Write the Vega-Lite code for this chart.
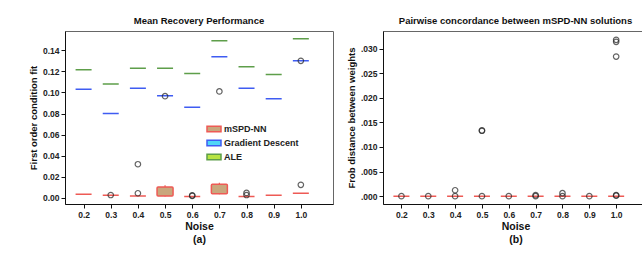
{
  "$schema": "https://vega.github.io/schema/vega-lite/v6.json",
  "padding": {"left": 27, "top": 15, "right": 0, "bottom": 2},
  "background": "white",
  "spacing": 11,
  "config": {
    "font": "Liberation Sans",
    "view": {"stroke": "#666666", "strokeWidth": 1},
    "title": {"font": "Liberation Sans", "fontSize": 9.5, "fontWeight": "bold", "color": "#111111", "offset": 6},
    "axis": {
      "grid": false,
      "domainColor": "#111111",
      "tickColor": "#111111",
      "tickSize": 4,
      "tickCount": 30,
      "labelFont": "Liberation Sans",
      "labelFontSize": 8.5,
      "labelFontWeight": "bold",
      "labelColor": "#222222",
      "labelOverlap": false,
      "titleFont": "Liberation Sans",
      "titleFontWeight": "bold",
      "titleColor": "#111111",
      "labelPadding": 2
    }
  },
  "datasets": {
    "boxA": [
      {"noise": 0.2, "method": "mSPD-NN", "lo": 0.0035, "q1": 0.0035, "q3": 0.0035, "hi": 0.0035},
      {"noise": 0.3, "method": "mSPD-NN", "lo": 0.0025, "q1": 0.0025, "q3": 0.0025, "hi": 0.0025},
      {"noise": 0.4, "method": "mSPD-NN", "lo": 0.002, "q1": 0.002, "q3": 0.002, "hi": 0.002},
      {"noise": 0.5, "method": "mSPD-NN", "lo": 0.0015, "q1": 0.002, "q3": 0.0105, "hi": 0.012},
      {"noise": 0.6, "method": "mSPD-NN", "lo": 0.0015, "q1": 0.0015, "q3": 0.0015, "hi": 0.0015},
      {"noise": 0.7, "method": "mSPD-NN", "lo": 0.0035, "q1": 0.004, "q3": 0.013, "hi": 0.0145},
      {"noise": 0.8, "method": "mSPD-NN", "lo": 0.0015, "q1": 0.0015, "q3": 0.0015, "hi": 0.0015},
      {"noise": 0.9, "method": "mSPD-NN", "lo": 0.0025, "q1": 0.0025, "q3": 0.0025, "hi": 0.0025},
      {"noise": 1.0, "method": "mSPD-NN", "lo": 0.0045, "q1": 0.0045, "q3": 0.0045, "hi": 0.0045},
      {"noise": 0.2, "method": "Gradient Descent", "lo": 0.103, "q1": 0.103, "q3": 0.103, "hi": 0.103},
      {"noise": 0.3, "method": "Gradient Descent", "lo": 0.080, "q1": 0.080, "q3": 0.080, "hi": 0.080},
      {"noise": 0.4, "method": "Gradient Descent", "lo": 0.104, "q1": 0.104, "q3": 0.104, "hi": 0.104},
      {"noise": 0.5, "method": "Gradient Descent", "lo": 0.097, "q1": 0.097, "q3": 0.097, "hi": 0.097},
      {"noise": 0.6, "method": "Gradient Descent", "lo": 0.086, "q1": 0.086, "q3": 0.086, "hi": 0.086},
      {"noise": 0.7, "method": "Gradient Descent", "lo": 0.134, "q1": 0.134, "q3": 0.134, "hi": 0.134},
      {"noise": 0.8, "method": "Gradient Descent", "lo": 0.104, "q1": 0.104, "q3": 0.104, "hi": 0.104},
      {"noise": 0.9, "method": "Gradient Descent", "lo": 0.094, "q1": 0.094, "q3": 0.094, "hi": 0.094},
      {"noise": 1.0, "method": "Gradient Descent", "lo": 0.130, "q1": 0.130, "q3": 0.130, "hi": 0.130},
      {"noise": 0.2, "method": "ALE", "lo": 0.1215, "q1": 0.1215, "q3": 0.1215, "hi": 0.1215},
      {"noise": 0.3, "method": "ALE", "lo": 0.108, "q1": 0.108, "q3": 0.108, "hi": 0.108},
      {"noise": 0.4, "method": "ALE", "lo": 0.123, "q1": 0.123, "q3": 0.123, "hi": 0.123},
      {"noise": 0.5, "method": "ALE", "lo": 0.123, "q1": 0.123, "q3": 0.123, "hi": 0.123},
      {"noise": 0.6, "method": "ALE", "lo": 0.118, "q1": 0.118, "q3": 0.118, "hi": 0.118},
      {"noise": 0.7, "method": "ALE", "lo": 0.149, "q1": 0.149, "q3": 0.149, "hi": 0.149},
      {"noise": 0.8, "method": "ALE", "lo": 0.1245, "q1": 0.1245, "q3": 0.1245, "hi": 0.1245},
      {"noise": 0.9, "method": "ALE", "lo": 0.117, "q1": 0.117, "q3": 0.117, "hi": 0.117},
      {"noise": 1.0, "method": "ALE", "lo": 0.151, "q1": 0.151, "q3": 0.151, "hi": 0.151}
    ],
    "outA": [
      {"noise": 0.3, "value": 0.0028},
      {"noise": 0.4, "value": 0.0045},
      {"noise": 0.4, "value": 0.032},
      {"noise": 0.5, "value": 0.0965},
      {"noise": 0.6, "value": 0.002},
      {"noise": 0.6, "value": 0.0025},
      {"noise": 0.7, "value": 0.101},
      {"noise": 0.8, "value": 0.0028},
      {"noise": 0.8, "value": 0.0048},
      {"noise": 1.0, "value": 0.0125},
      {"noise": 1.0, "value": 0.130}
    ],
    "boxB": [
      {"noise": 0.2, "lo": 0, "q1": 0, "q3": 0, "hi": 0},
      {"noise": 0.3, "lo": 0, "q1": 0, "q3": 0, "hi": 0},
      {"noise": 0.4, "lo": 0, "q1": 0, "q3": 0, "hi": 0},
      {"noise": 0.5, "lo": 0, "q1": 0, "q3": 0, "hi": 0},
      {"noise": 0.6, "lo": 0, "q1": 0, "q3": 0, "hi": 0},
      {"noise": 0.7, "lo": 0, "q1": 0, "q3": 0, "hi": 0},
      {"noise": 0.8, "lo": 0, "q1": 0, "q3": 0, "hi": 0},
      {"noise": 0.9, "lo": 0, "q1": 0, "q3": 0, "hi": 0},
      {"noise": 1.0, "lo": 0, "q1": 0, "q3": 0, "hi": 0}
    ],
    "outB": [
      {"noise": 0.2, "value": 0},
      {"noise": 0.3, "value": 0},
      {"noise": 0.4, "value": 0},
      {"noise": 0.4, "value": 0.0012},
      {"noise": 0.5, "value": 0},
      {"noise": 0.5, "value": 0.0133},
      {"noise": 0.5, "value": 0.01338},
      {"noise": 0.6, "value": 0},
      {"noise": 0.7, "value": 0},
      {"noise": 0.7, "value": 0.0002},
      {"noise": 0.8, "value": 0},
      {"noise": 0.8, "value": 0.0006},
      {"noise": 0.9, "value": 0},
      {"noise": 1.0, "value": 0.0001},
      {"noise": 1.0, "value": 0.0002},
      {"noise": 1.0, "value": 0.0284},
      {"noise": 1.0, "value": 0.0314},
      {"noise": 1.0, "value": 0.0318}
    ]
  },
  "hconcat": [
    {
      "width": 268,
      "height": 173,
      "title": "Mean Recovery Performance",
      "layer": [
        {
          "data": {"name": "boxA"},
          "mark": {"type": "rule", "strokeWidth": 1.2},
          "encoding": {
            "x": {"field": "noise", "type": "quantitative"},
            "y": {"field": "lo", "type": "quantitative"},
            "y2": {"field": "hi"},
            "stroke": {"field": "method", "type": "nominal", "title": null,
              "scale": {"domain": ["mSPD-NN", "Gradient Descent", "ALE"], "range": ["#ee5a55", "#3f5cf2", "#5e9e4a"]}}
          }
        },
        {
          "data": {"name": "boxA"},
          "mark": {"type": "bar", "width": 16, "strokeWidth": 1.5, "cornerRadius": 1, "fillOpacity": 1},
          "encoding": {
            "x": {"field": "noise", "type": "quantitative",
              "scale": {"domain": [0.15, 1.1], "nice": false, "zero": false},
              "axis": {"values": [0.2, 0.3, 0.4, 0.5, 0.6, 0.7, 0.8, 0.9, 1.0], "tickCount": 30, "format": ".1f", "labelOverlap": false, "title": ["Noise", "(a)"], "titleFontSize": 10.5, "titleLineHeight": 13, "titlePadding": 3}},
            "y": {"field": "q1", "type": "quantitative",
              "scale": {"domain": [-0.0057, 0.1583], "nice": false, "zero": false},
              "axis": {"values": [0, 0.02, 0.04, 0.06, 0.08, 0.1, 0.12, 0.14], "tickCount": 30, "format": ".2f", "labelOverlap": false, "title": "First order condition fit", "titleFontSize": 9.5, "titlePadding": 4}},
            "y2": {"field": "q3"},
            "fill": {"field": "method", "type": "nominal", "title": null,
              "scale": {"domain": ["mSPD-NN", "Gradient Descent", "ALE"], "range": ["#c9a77d", "#4fd6f7", "#b8e442"]},
              "legend": {"orient": "none", "legendX": 143, "legendY": 92, "symbolType": "M-1.4,-0.55H1.4V0.55H-1.4Z", "symbolSize": 100, "symbolStrokeWidth": 1.5, "symbolOpacity": 1, "labelFont": "Liberation Sans", "labelFontSize": 9, "labelFontWeight": "bold", "labelColor": "#222222", "rowPadding": 2, "labelOffset": 4, "padding": 0}},
            "stroke": {"field": "method", "type": "nominal", "title": null,
              "scale": {"domain": ["mSPD-NN", "Gradient Descent", "ALE"], "range": ["#ee5a55", "#3f5cf2", "#5e9e4a"]},
              "legend": {"orient": "none", "legendX": 143, "legendY": 92, "symbolType": "M-1.4,-0.55H1.4V0.55H-1.4Z", "symbolSize": 100, "symbolStrokeWidth": 1.5, "symbolOpacity": 1, "labelFont": "Liberation Sans", "labelFontSize": 9, "labelFontWeight": "bold", "labelColor": "#222222", "rowPadding": 2, "labelOffset": 4, "padding": 0}}
          }
        },
        {
          "data": {"name": "outA"},
          "mark": {"type": "point", "shape": "circle", "filled": false, "size": 30, "stroke": "#222222", "strokeWidth": 1.2},
          "encoding": {
            "x": {"field": "noise", "type": "quantitative"},
            "y": {"field": "value", "type": "quantitative"}
          }
        }
      ]
    },
    {
      "width": 265,
      "height": 173,
      "title": "Pairwise concordance between mSPD-NN solutions",
      "layer": [
        {
          "data": {"name": "boxB"},
          "mark": {"type": "bar", "width": 16, "strokeWidth": 1.5, "fill": "#c9a77d", "stroke": "#ee5a55"},
          "encoding": {
            "x": {"field": "noise", "type": "quantitative",
              "scale": {"domain": [0.15, 1.1], "nice": false, "zero": false},
              "axis": {"values": [0.2, 0.3, 0.4, 0.5, 0.6, 0.7, 0.8, 0.9, 1.0], "tickCount": 30, "format": ".1f", "labelOverlap": false, "title": ["Noise", "(b)"], "titleFontSize": 10.5, "titleLineHeight": 13, "titlePadding": 3}},
            "y": {"field": "q1", "type": "quantitative",
              "scale": {"domain": [-0.0016, 0.0336], "nice": false, "zero": false},
              "axis": {"values": [0, 0.005, 0.01, 0.015, 0.02, 0.025, 0.03], "tickCount": 30, "labelOverlap": false, "labelExpr": "substring(format(datum.value, '.3f'), 1)", "title": "Frob distance between weights", "titleFontSize": 9.5, "titlePadding": 4}},
            "y2": {"field": "q3"}
          }
        },
        {
          "data": {"name": "outB"},
          "mark": {"type": "point", "shape": "circle", "filled": false, "size": 30, "stroke": "#222222", "strokeWidth": 1.2},
          "encoding": {
            "x": {"field": "noise", "type": "quantitative"},
            "y": {"field": "value", "type": "quantitative"}
          }
        }
      ]
    }
  ]
}
